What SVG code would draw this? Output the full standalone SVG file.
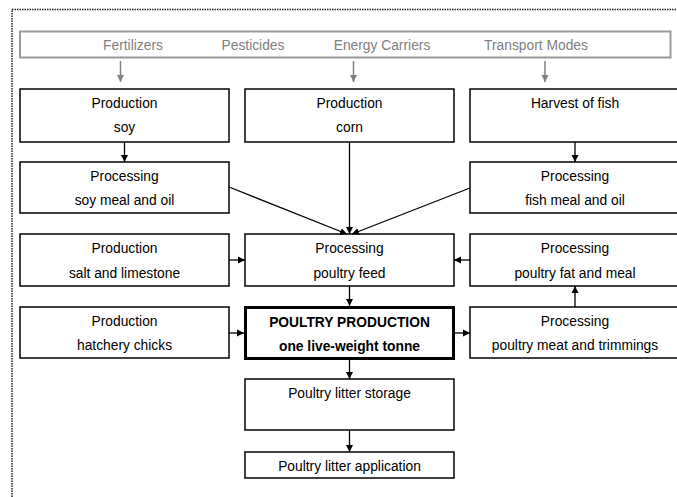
<svg xmlns="http://www.w3.org/2000/svg" width="677" height="497" viewBox="0 0 677 497">
<style>
.bx{fill:#fff;stroke:#000;stroke-width:1.5}
.t{font-family:"Liberation Sans",Arial,sans-serif;font-size:13.8px;fill:#000;text-anchor:middle}
.g{font-family:"Liberation Sans",Arial,sans-serif;font-size:13.8px;fill:#808080;text-anchor:middle}
.b{font-weight:bold}
.ln{stroke:#000;stroke-width:1.3;fill:none}
.gl{stroke:#808080;stroke-width:1.5;fill:none}
</style>
<defs>
<marker id="ah" markerWidth="8" markerHeight="8" refX="7" refY="4" orient="auto" markerUnits="userSpaceOnUse">
<path d="M0,0.5 L7,4 L0,7.5 Z" fill="#000"/>
</marker>
<marker id="ag" markerWidth="8" markerHeight="8" refX="7" refY="4" orient="auto" markerUnits="userSpaceOnUse">
<path d="M0,0.5 L7,4 L0,7.5 Z" fill="#808080"/>
</marker>
</defs>
<rect width="677" height="497" fill="#fff"/>
<path d="M12,497 V9.5 H677" fill="none" stroke="#222" stroke-width="1.5" stroke-dasharray="1.5,1"/>

<g id="inputs">
<rect x="20" y="31.5" width="650.5" height="26" fill="#fff" stroke="#999" stroke-width="2"/>
<text class="g" x="133" y="49.5">Fertilizers</text>
<text class="g" x="253" y="49.5">Pesticides</text>
<text class="g" x="382" y="49.5">Energy Carriers</text>
<text class="g" x="536" y="49.5">Transport Modes</text>
</g>

<g id="prod-soy"><rect class="bx" x="20" y="89" width="209" height="53"/><text class="t" x="124.5" y="108">Production</text><text class="t" x="124.5" y="132">soy</text></g>
<g id="prod-corn"><rect class="bx" x="245" y="89" width="209" height="53"/><text class="t" x="349.5" y="108">Production</text><text class="t" x="349.5" y="132">corn</text></g>
<g id="harvest-fish"><rect class="bx" x="470" y="89" width="215" height="53"/><text class="t" x="575" y="108">Harvest of fish</text></g>

<g id="proc-soy"><rect class="bx" x="20" y="162" width="209" height="51"/><text class="t" x="124.5" y="181">Processing</text><text class="t" x="124.5" y="205">soy meal and oil</text></g>
<g id="proc-fish"><rect class="bx" x="470" y="162" width="215" height="51"/><text class="t" x="575" y="181">Processing</text><text class="t" x="575" y="205">fish meal and oil</text></g>

<g id="prod-salt"><rect class="bx" x="20" y="234" width="209" height="52"/><text class="t" x="124.5" y="253">Production</text><text class="t" x="124.5" y="278">salt and limestone</text></g>
<g id="proc-feed"><rect class="bx" x="245" y="234" width="209" height="52"/><text class="t" x="349.5" y="253">Processing</text><text class="t" x="349.5" y="278">poultry feed</text></g>
<g id="proc-fat"><rect class="bx" x="470" y="234" width="215" height="52"/><text class="t" x="575" y="253">Processing</text><text class="t" x="575" y="278">poultry fat and meal</text></g>

<g id="prod-chicks"><rect class="bx" x="20" y="307" width="209" height="51"/><text class="t" x="124.5" y="326">Production</text><text class="t" x="124.5" y="350">hatchery chicks</text></g>
<g id="poultry"><rect x="245.5" y="307.5" width="208" height="51" fill="#fff" stroke="#000" stroke-width="3"/><text class="t b" x="349.5" y="327">POULTRY PRODUCTION</text><text class="t b" x="349.5" y="351">one live-weight tonne</text></g>
<g id="proc-meat"><rect class="bx" x="470" y="307" width="215" height="51"/><text class="t" x="575" y="326">Processing</text><text class="t" x="575" y="350">poultry meat and trimmings</text></g>

<g id="storage"><rect class="bx" x="245" y="379" width="209" height="51"/><text class="t" x="349.5" y="398">Poultry litter storage</text></g>
<g id="application"><rect class="bx" x="245" y="452" width="209" height="26"/><text class="t" x="349.5" y="470.5">Poultry litter application</text></g>

<g id="connectors">
<line class="gl" x1="120.5" y1="61" x2="120.5" y2="82" marker-end="url(#ag)"/>
<line class="gl" x1="353.5" y1="61" x2="353.5" y2="82" marker-end="url(#ag)"/>
<line class="gl" x1="545" y1="61" x2="545" y2="82" marker-end="url(#ag)"/>
<line class="ln" x1="124.5" y1="142" x2="124.5" y2="162" marker-end="url(#ah)"/>
<line class="ln" x1="575" y1="142" x2="575" y2="162" marker-end="url(#ah)"/>
<line class="ln" x1="349.5" y1="142" x2="349.5" y2="234" marker-end="url(#ah)"/>
<line class="ln" x1="229" y1="187" x2="347" y2="234" marker-end="url(#ah)"/>
<line class="ln" x1="470" y1="188" x2="352" y2="234" marker-end="url(#ah)"/>
<line class="ln" x1="229" y1="260" x2="245" y2="260" marker-end="url(#ah)"/>
<line class="ln" x1="470" y1="260" x2="454" y2="260" marker-end="url(#ah)"/>
<line class="ln" x1="349.5" y1="286" x2="349.5" y2="306" marker-end="url(#ah)"/>
<line class="ln" x1="229" y1="333" x2="244" y2="333" marker-end="url(#ah)"/>
<line class="ln" x1="455" y1="333" x2="470" y2="333" marker-end="url(#ah)"/>
<line class="ln" x1="575" y1="307" x2="575" y2="286" marker-end="url(#ah)"/>
<line class="ln" x1="349.5" y1="359" x2="349.5" y2="379" marker-end="url(#ah)"/>
<line class="ln" x1="349.5" y1="430" x2="349.5" y2="452" marker-end="url(#ah)"/>
</g>
</svg>
